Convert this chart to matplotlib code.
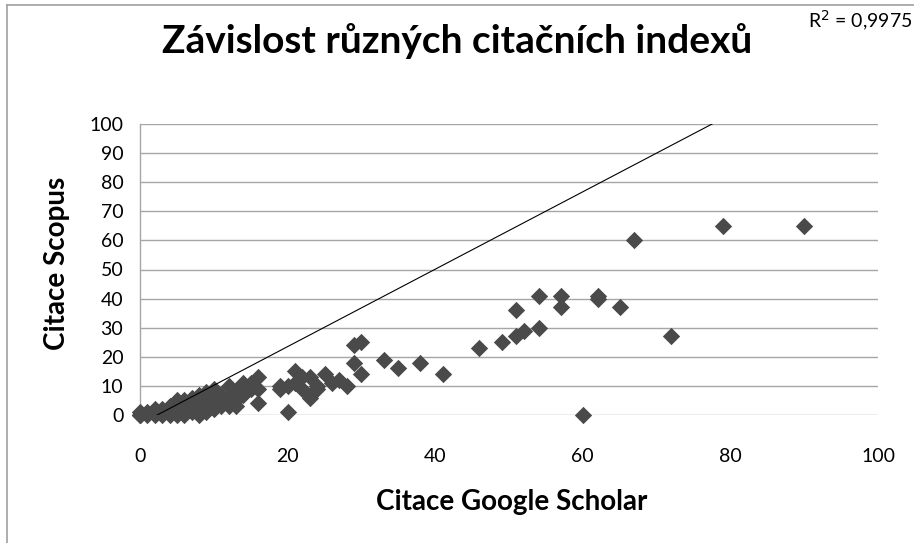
import matplotlib
matplotlib.use("Agg")
import matplotlib.pyplot as plt
from matplotlib.lines import Line2D

plt.rcParams['font.family'] = ['Lato', 'DejaVu Sans']

# citace Google Scholar (x) a Scopus (y) jednotlivych praci
gs_citations = [
    0, 0, 0, 0, 1, 1, 2, 2, 2, 3, 3, 3,
    4, 4, 4, 4, 5, 5, 5, 5, 6, 6, 6, 6,
    7, 7, 7, 7, 8, 8, 8, 8, 9, 9, 9, 9,
    10, 10, 10, 10, 11, 11, 11, 12, 12, 12, 12,
    13, 13, 13, 14, 14, 15, 15, 16, 16, 16,
    19, 19, 20, 20, 21, 21, 22, 22, 23, 23, 23, 24, 24,
    25, 26, 27, 28, 29, 29, 30, 30,
    33, 35, 38, 41, 46, 49, 51, 51, 52, 54, 54,
    57, 57, 60, 62, 62, 65, 67, 72, 79, 90,
]
scopus_citations = [
    0, 0, 1, 0, 0, 1, 0, 1, 2, 0, 1, 2,
    0, 1, 2, 3, 0, 2, 3, 5, 0, 2, 4, 5,
    1, 3, 4, 6, 0, 2, 4, 7, 1, 3, 5, 8,
    2, 4, 6, 9, 3, 5, 7, 3, 4, 6, 10,
    3, 5, 8, 7, 11, 9, 11, 4, 9, 13,
    9, 10, 1, 10, 11, 15, 9, 13, 6, 7, 13, 9, 10,
    14, 11, 12, 10, 18, 24, 25, 14,
    19, 16, 18, 14, 23, 25, 36, 27, 29, 30, 41,
    41, 37, 0, 41, 40, 37, 60, 27, 65, 65,
]

# linearni trend (Excel)
trend_slope = 1.33
trend_intercept = -3.1
r2_label = "R$^2$ = 0,9975"

x_ticks = [0, 20, 40, 60, 80, 100]
y_ticks = list(range(0, 101, 10))

W, H = 914, 543
fig = plt.figure(figsize=(W / 100, H / 100), dpi=100)
ax = fig.add_axes([140 / W, 1 - 415 / H, 738 / W, 291 / H])

ax.scatter(gs_citations, scopus_citations, marker='D', s=78, color='#4a4a4a',
           linewidths=0, zorder=3, clip_on=False)

tx = [0, 100]
ty = [trend_slope * v + trend_intercept for v in tx]
ax.plot(tx, ty, color='black', linewidth=0.8, zorder=4)

ax.set_xlim(0, 100)
ax.set_ylim(0, 100)
ax.set_xticks(x_ticks)
ax.set_yticks(y_ticks)
ax.tick_params(length=0, labelsize=14, colors='black')
ax.tick_params(axis='x', pad=24)
ax.tick_params(axis='y', pad=12)
ax.grid(axis='y', color='#a6a6a6', linewidth=1)
ax.set_axisbelow(True)
for side in ['top', 'right', 'bottom']:
    ax.spines[side].set_visible(False)
ax.spines['left'].set_color('#a6a6a6')
ax.spines['left'].set_linewidth(1)

# popisky os a nadpis
fig.text(512 / W, 1 - 510 / H, "Citace Google Scholar", ha='center', va='baseline',
         fontsize=20, fontweight='bold')
fig.text(65 / W, 1 - 263 / H, "Citace Scopus", ha='center', va='baseline',
         rotation=90, rotation_mode='anchor', fontsize=20, fontweight='bold')
fig.text(0.5, 1 - 53 / H, "Závislost různých citačních indexů", ha='center', va='baseline',
         fontsize=28, fontweight='bold')
fig.text(808 / W, 1 - 28 / H, r2_label, ha='left', va='baseline', fontsize=14)

# ramecek grafu
fig.add_artist(Line2D([7 / W, 7 / W], [0, 1 - 5 / H], color='#a0a0a0', linewidth=1.2))
fig.add_artist(Line2D([7 / W, 1], [1 - 5 / H, 1 - 5 / H], color='#a0a0a0', linewidth=1.2))

fig.savefig("out.png", dpi=100)
